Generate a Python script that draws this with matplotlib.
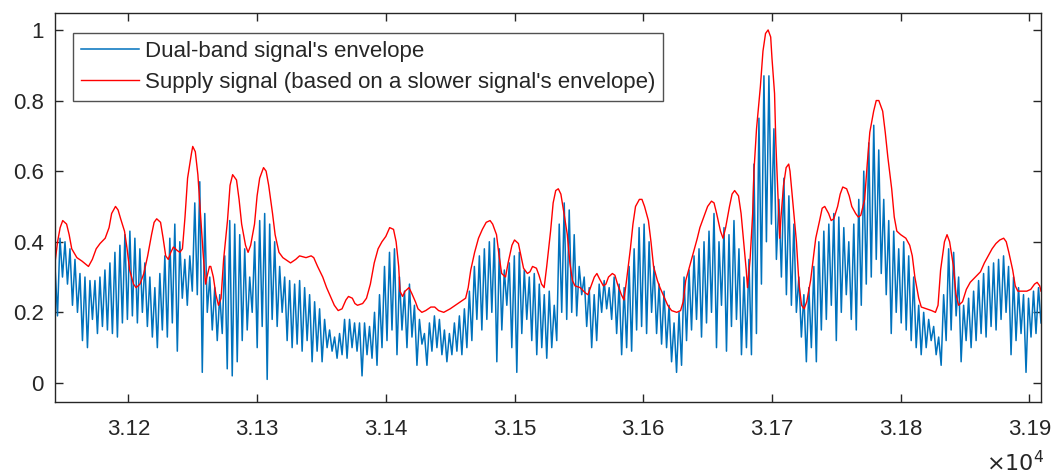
import numpy as np
import matplotlib
matplotlib.use("Agg")
import matplotlib.pyplot as plt

plt.rcParams['font.family'] = ['Liberation Sans', 'DejaVu Sans']

# ---- data ----
x_start, x_end = 31143, 31909

blue_peaks = [
    .33, .41, .40, .38, .35, .31, .30, .29, .29, .30,
    .32, .34, .37, .39, .42, .43, .41, .38, .34, .30,
    .27, .31, .36, .41, .45, .40, .35, .36, .51, .57,
    .48, .30, .27, .25, .36, .46, .45, .42, .38, .30,
    .40, .46, .48, .45, .40, .33, .30, .29, .28, .29,
    .27, .25, .23, .21, .18, .15, .13, .14, .18, .18,
    .17, .17, .17, .16, .20, .25, .33, .37, .38, .30,
    .26, .28, .22, .18, .14, .17, .19, .18, .15, .14,
    .17, .19, .21, .26, .33, .36, .38, .40, .41, .38,
    .32, .34, .36, .37, .32, .30, .31, .28, .25, .26,
    .22, .45, .51, .49, .42, .33, .30, .27, .25, .28,
    .29, .27, .30, .28, .27, .33, .38, .44, .45, .40,
    .33, .28, .26, .22, .17, .20, .30, .32, .36, .38,
    .40, .43, .48, .40, .44, .42, .46, .38, .30, .35,
    .62, .75, .87, .87, .72, .52, .58, .53, .45, .30,
    .25, .27, .33, .40, .43, .45, .48, .47, .44, .40,
    .45, .52, .60, .68, .73, .66, .52, .46, .43, .38,
    .40, .36, .30, .22, .20, .18, .16, .13, .25, .38,
    .37, .30, .22, .24, .26, .29, .31, .33, .34, .35,
    .36, .33, .30, .27, .25, .24, .26, .27,
]

blue_troughs = [
    .19, .30, .28, .22, .20, .12, .10, .18, .14, .16,
    .15, .14, .13, .17, .18, .19, .17, .20, .16, .13,
    .10, .15, .13, .17, .09, .24, .22, .26, .25, .03,
    .20, .15, .12, .14, .04, .02, .06, .12, .15, .20,
    .10, .16, .01, .18, .16, .20, .12, .10, .11, .09,
    .12, .06, .09, .06, .10, .09, .07, .08, .07, .10,
    .09, .02, .08, .07, .05, .10, .12, .15, .08, .15,
    .10, .13, .05, .11, .05, .09, .10, .08, .06, .08,
    .09, .08, .10, .12, .18, .15, .18, .20, .06, .15,
    .22, .10, .03, .14, .18, .12, .08, .10, .07, .10,
    .12, .20, .18, .20, .19, .25, .16, .10, .12, .20,
    .21, .18, .14, .08, .10, .09, .15, .16, .14, .20,
    .14, .11, .10, .06, .03, .05, .12, .15, .18, .13,
    .17, .20, .10, .22, .09, .16, .18, .08, .10, .08,
    .14, .28, .40, .45, .35, .30, .25, .22, .20, .13,
    .06, .10, .06, .15, .18, .22, .12, .20, .25, .18,
    .15, .22, .28, .30, .35, .31, .25, .14, .20, .17,
    .15, .12, .10, .08, .10, .12, .08, .05, .12, .15,
    .19, .06, .12, .10, .12, .14, .13, .16, .15, .18,
    .20, .08, .12, .14, .03, .13, .14, .17,
]

red_x = [
    31143, 31145, 31147, 31149, 31152, 31154, 31156, 31160, 31164, 31169,
    31172, 31175, 31178, 31182, 31185, 31187, 31190, 31192, 31194, 31197,
    31199, 31201, 31204, 31206, 31209, 31212, 31215, 31218, 31220, 31222,
    31225, 31227, 31229, 31231, 31233, 31235, 31238, 31240, 31242, 31244,
    31246, 31249, 31250, 31252, 31254, 31256, 31258, 31260, 31261, 31263,
    31264, 31266, 31268, 31270, 31272, 31274, 31277, 31279, 31281, 31284,
    31286, 31288, 31291, 31293, 31295, 31298, 31300, 31302, 31305, 31307,
    31309, 31312, 31314, 31317, 31320, 31326, 31330, 31333, 31338, 31342,
    31344, 31347, 31351, 31354, 31357, 31360, 31363, 31366, 31369, 31371,
    31374, 31376, 31378, 31382, 31385, 31388, 31391, 31394, 31397, 31400,
    31403, 31406, 31408, 31410, 31411, 31413, 31415, 31418, 31420, 31423,
    31425, 31428, 31431, 31435, 31438, 31441, 31445, 31450, 31456, 31462,
    31464, 31466, 31469, 31472, 31475, 31478, 31481, 31483, 31486, 31488,
    31490, 31493, 31495, 31498, 31500, 31503, 31505, 31507, 31510, 31512,
    31514, 31517, 31519, 31521, 31523, 31525, 31528, 31530, 31532, 31534,
    31536, 31538, 31541, 31543, 31545, 31547, 31551, 31555, 31557, 31559,
    31562, 31564, 31566, 31569, 31571, 31573, 31576, 31578, 31580, 31583,
    31585, 31587, 31590, 31592, 31594, 31597, 31599, 31601, 31604, 31606,
    31608, 31611, 31613, 31616, 31619, 31622, 31626, 31629, 31631, 31633,
    31636, 31639, 31642, 31644, 31647, 31650, 31653, 31655, 31657, 31660,
    31662, 31664, 31667, 31669, 31671, 31674, 31676, 31678, 31680, 31681,
    31683, 31685, 31686, 31688, 31691, 31693, 31695, 31697, 31699, 31700,
    31702, 31703, 31705, 31706, 31707, 31709, 31711, 31713, 31714, 31716,
    31719, 31721, 31723, 31725, 31727, 31730, 31732, 31734, 31737, 31739,
    31741, 31744, 31746, 31748, 31751, 31753, 31755, 31758, 31760, 31762,
    31765, 31767, 31769, 31772, 31774, 31776, 31779, 31781, 31783, 31786,
    31788, 31790, 31793, 31795, 31797, 31800, 31804, 31807, 31809, 31811,
    31814, 31816, 31820, 31824, 31827, 31829, 31831, 31834, 31836, 31838,
    31841, 31843, 31845, 31848, 31851, 31854, 31858, 31862, 31865, 31868,
    31871, 31874, 31877, 31880, 31882, 31884, 31887, 31889, 31891, 31894,
    31898, 31901, 31904, 31906, 31908, 31909,
]
red_y = [
    .34, .40, .44, .46, .45, .42, .38, .355, .345, .33,
    .35, .38, .395, .41, .44, .48, .50, .49, .465, .43,
    .38, .32, .28, .27, .28, .31, .36, .42, .455, .465,
    .455, .41, .36, .35, .37, .385, .375, .37, .38, .47,
    .58, .65, .67, .655, .59, .48, .37, .28, .30, .33,
    .33, .30, .25, .22, .24, .35, .46, .56, .59, .575,
    .52, .45, .39, .37, .39, .45, .53, .58, .61, .60,
    .56, .48, .42, .37, .355, .34, .35, .36, .355, .36,
    .355, .33, .30, .27, .245, .22, .205, .21, .235, .245,
    .24, .225, .22, .225, .24, .28, .34, .38, .40, .415,
    .44, .435, .40, .33, .26, .245, .26, .27, .255, .23,
    .21, .20, .205, .215, .215, .205, .20, .21, .225, .24,
    .27, .32, .37, .41, .435, .455, .46, .45, .42, .36,
    .31, .30, .34, .39, .405, .395, .36, .325, .31, .315,
    .33, .325, .305, .28, .27, .33, .43, .51, .545, .55,
    .535, .49, .42, .34, .29, .275, .27, .255, .25, .27,
    .30, .31, .295, .275, .28, .30, .31, .305, .28, .25,
    .235, .29, .38, .45, .50, .52, .52, .50, .46, .40,
    .33, .29, .27, .245, .22, .205, .20, .205, .23, .29,
    .33, .37, .41, .44, .47, .50, .515, .51, .48, .43,
    .41, .44, .50, .535, .545, .53, .48, .40, .32, .27,
    .35, .48, .60, .72, .84, .94, .99, 1.0, .98, .92,
    .82, .68, .50, .41, .47, .56, .61, .62, .60, .52,
    .40, .28, .22, .21, .23, .29, .35, .41, .46, .495,
    .50, .48, .46, .465, .50, .535, .555, .55, .53, .50,
    .48, .47, .475, .52, .62, .71, .77, .80, .80, .77,
    .71, .64, .55, .47, .43, .42, .41, .39, .36, .30,
    .24, .215, .21, .205, .20, .22, .32, .40, .42, .40,
    .33, .25, .22, .23, .265, .285, .30, .315, .34, .36,
    .38, .395, .405, .41, .40, .37, .32, .275, .26, .26,
    .26, .265, .28, .285, .275, .26,
]

xtick_vals = [31200, 31300, 31400, 31500, 31600, 31700, 31800, 31900]
xtick_labels = ['3.12', '3.13', '3.14', '3.15', '3.16', '3.17', '3.18', '3.19']
ytick_vals = [0, 0.2, 0.4, 0.6, 0.8, 1.0]
ytick_labels = ['0', '0.2', '0.4', '0.6', '0.8', '1']

# ---- build blue series (alternating peak / trough samples) ----
blue_y = np.empty(2 * len(blue_peaks))
blue_y[0::2] = blue_peaks
blue_y[1::2] = blue_troughs
blue_x = np.linspace(x_start, x_end, len(blue_y))

# ---- plot ----
fig = plt.figure(figsize=(10.54, 4.74), dpi=100)
ax = fig.add_axes([55 / 1054, 1 - 402 / 474, (1041 - 55) / 1054, (402 - 13) / 474])

ax.plot(blue_x, blue_y, color='#0072BD', lw=1.1, label="Dual-band signal's envelope")
ax.plot(red_x, red_y, color='#FF0000', lw=1.0,
        label="Supply signal (based on a slower signal's envelope)")

ax.set_xlim(x_start, x_end)
ax.set_ylim(-0.054, 1.048)
ax.set_xticks(xtick_vals)
ax.set_xticklabels(xtick_labels)
ax.set_yticks(ytick_vals)
ax.set_yticklabels(ytick_labels)

axc = '#262626'
for s in ax.spines.values():
    s.set_color(axc)
    s.set_linewidth(1.0)
ax.tick_params(direction='in', length=6, width=1.0, colors=axc, labelsize=16,
               top=True, right=True)
ax.tick_params(axis='x', pad=12)
ax.tick_params(axis='y', pad=8)
for lab in ax.get_xticklabels() + ax.get_yticklabels():
    lab.set_color(axc)

fig.text(1044 / 1054, 1 - 471 / 474, r'$\times10^{4}$', ha='right', va='baseline',
         fontsize=16, color=axc)

leg = ax.legend(loc='upper left', bbox_to_anchor=(18 / 986, 1 - 20 / 389), fontsize=16,
                frameon=True, fancybox=False, edgecolor=axc, handlelength=2.6,
                borderpad=0.35, labelspacing=0.45, handletextpad=0.3, borderaxespad=0)
leg.get_frame().set_linewidth(1.0)
for t in leg.get_texts():
    t.set_color(axc)

fig.savefig('out.png', dpi=100)
